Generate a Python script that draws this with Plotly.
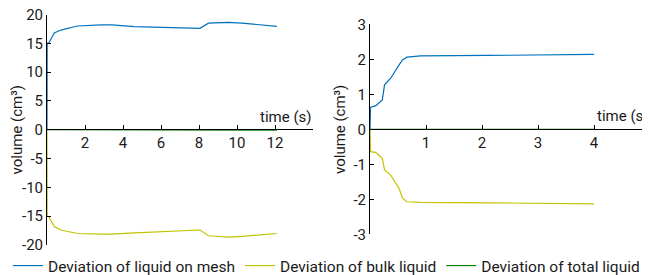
import plotly.graph_objects as go

# Left panel data (long time)
t_left = [0, 0.01, 0.1, 0.38, 0.73, 1.6, 2.85, 3.4, 4.6, 6.4, 8.05, 8.5, 9.55, 10.25, 12.1]
mesh_left = [0, 15.0, 15.1, 16.8, 17.3, 18.0, 18.2, 18.2, 17.9, 17.7, 17.6, 18.5, 18.65, 18.5, 17.95]
bulk_left = [0, -15.0, -15.1, -16.8, -17.4, -18.0, -18.1, -18.1, -17.9, -17.6, -17.4, -18.4, -18.65, -18.5, -18.0]
t_total_left = [0, 8.3, 8.5, 12.1]
total_left = [0, 0, -0.08, -0.08]

# Right panel data (short time)
t_right = [0, 0.01, 0.1, 0.22, 0.26, 0.37, 0.52, 0.58, 0.66, 0.9, 2.1, 4.0]
mesh_right = [0, 0.63, 0.67, 0.84, 1.27, 1.46, 1.84, 1.98, 2.06, 2.10, 2.11, 2.14]
bulk_right = [0, -0.64, -0.66, -0.83, -1.16, -1.31, -1.69, -1.97, -2.07, -2.09, -2.10, -2.13]
t_total_right = [0, 4.0]
total_right = [0, 0]

names = ["Deviation of liquid on mesh", "Deviation of bulk liquid", "Deviation of total liquid"]
colors = ["#0072BD", "#C2C200", "#007F00"]

left_ticks = [2, 4, 6, 8, 10, 12, 14]
left_ticktext = ["2", "4", "6", "8", "10", "12", ""]
right_ticks = [1, 2, 3, 4]
left_yticks = [-20, -15, -10, -5, 0, 5, 10, 15, 20]
left_yticktext = ["-20", "-15", "-10", "-5", "0", "5", "10", "15", "20"]
right_yticks = [-3, -2, -1, 0, 1, 2, 3]
right_yticktext = ["-3", "-2", "-1", "0", "1", "2", "3"]

W, H = 650, 275
OFF = 8  # page body margin offset
FONT = "Roboto"
TXT = "#1a1a1a"

def px(x):
    return (x - OFF) / W

def py(y):
    return (H - (y - OFF)) / H

fig = go.Figure()
fig.add_trace(go.Scatter(x=t_left, y=mesh_left, mode="lines", name=names[0],
                         line=dict(color=colors[0], width=1.2), xaxis="x", yaxis="y"))
fig.add_trace(go.Scatter(x=t_left, y=bulk_left, mode="lines", name=names[1],
                         line=dict(color=colors[1], width=1.2), xaxis="x", yaxis="y"))
fig.add_trace(go.Scatter(x=t_total_left, y=total_left, mode="lines", name=names[2],
                         line=dict(color=colors[2], width=1.2), xaxis="x", yaxis="y"))
fig.add_trace(go.Scatter(x=t_right, y=mesh_right, mode="lines", showlegend=False,
                         line=dict(color=colors[0], width=1.2), xaxis="x2", yaxis="y2"))
fig.add_trace(go.Scatter(x=t_right, y=bulk_right, mode="lines", showlegend=False,
                         line=dict(color=colors[1], width=1.2), xaxis="x2", yaxis="y2"))
fig.add_trace(go.Scatter(x=t_total_right, y=total_right, mode="lines", showlegend=False,
                         line=dict(color=colors[2], width=1.2), xaxis="x2", yaxis="y2"))

axis_common = dict(showgrid=False, zeroline=False, showline=True, linecolor="black",
                   linewidth=1, ticks="inside", ticklen=4, tickcolor="black",
                   automargin=False, ticklabeloverflow="allow",
                   tickfont=dict(family=FONT, size=15, color=TXT))

fig.update_layout(
    width=W, height=H, margin=dict(l=0, r=0, t=0, b=0, autoexpand=False),
    paper_bgcolor="white", plot_bgcolor="white",
    font=dict(family=FONT, size=15, color=TXT),
    xaxis=dict(domain=[px(47), px(313)], range=[0, 14], anchor="free", position=py(128.5),
               tickvals=left_ticks, ticktext=left_ticktext, **axis_common),
    yaxis=dict(domain=[py(245), py(14.5)], range=[-20, 20], anchor="x",
               tickvals=left_yticks, ticktext=left_yticktext,
               title=dict(text="volume (cm³)", font=dict(family=FONT, size=15, color=TXT), standoff=4),
               **axis_common),
    xaxis2=dict(domain=[px(370), px(650)], range=[0, 5], anchor="free", position=py(128.8),
                tickvals=right_ticks, **axis_common),
    yaxis2=dict(domain=[py(234.3), py(24.3)], range=[-3, 3], anchor="x2",
                tickvals=right_yticks, ticktext=right_yticktext,
                title=dict(text="volume (cm³)", font=dict(family=FONT, size=15, color=TXT), standoff=4),
                **axis_common),
    legend=dict(orientation="h", x=px(8), y=py(266), xanchor="left", yanchor="middle",
                font=dict(family=FONT, size=15.5, color=TXT),
                itemwidth=30, tracegroupgap=0, bgcolor="rgba(0,0,0,0)"),
    showlegend=True,
)

fig.add_annotation(x=14, y=0, xref="x", yref="y", text="time (s)", showarrow=False,
                   xanchor="right", yanchor="bottom", yshift=2,
                   font=dict(family=FONT, size=15, color=TXT))
fig.add_annotation(x=5, y=0, xref="x2", yref="y2", text="time (s)", showarrow=False,
                   xanchor="right", yanchor="bottom", yshift=2,
                   font=dict(family=FONT, size=15, color=TXT))

fig.write_html("out.html")
